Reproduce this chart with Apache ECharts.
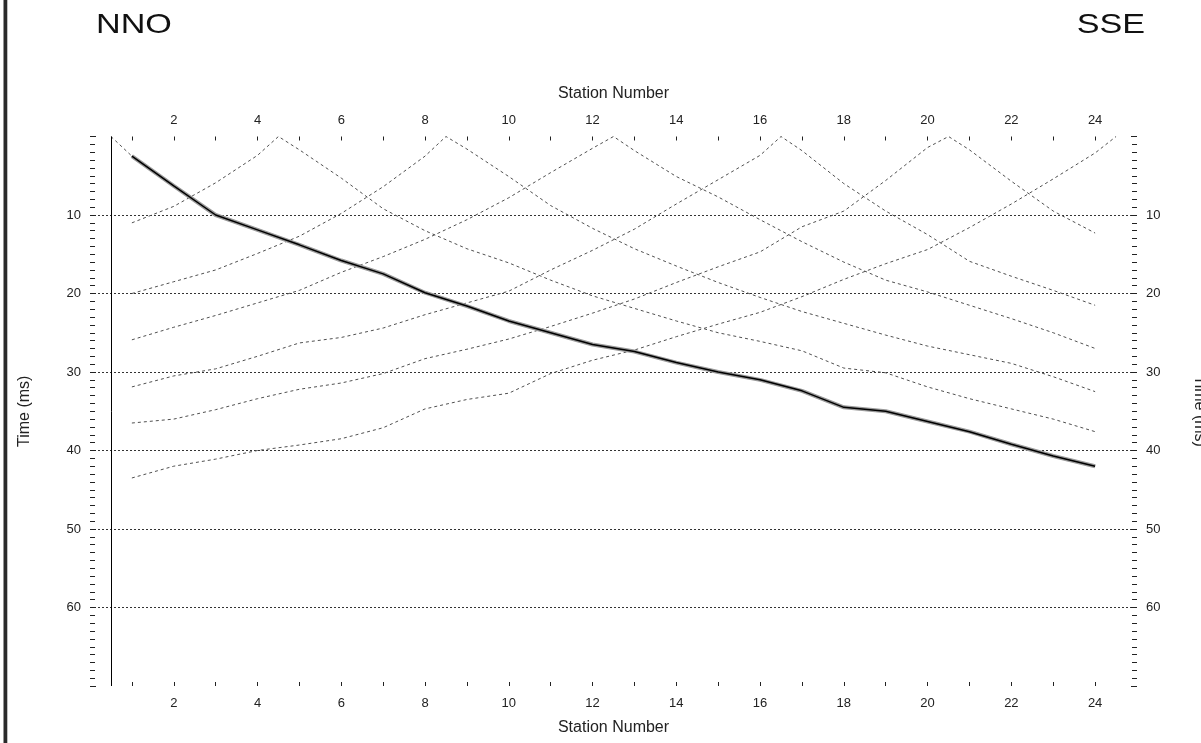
<!DOCTYPE html>
<html><head><meta charset="utf-8">
<script src="https://cdn.jsdelivr.net/npm/echarts@6/dist/echarts.min.js"></script>
<style>html,body{margin:0;padding:0;background:#fff}#c{width:1201px;height:743px}</style>
</head><body><div id="c"></div>
<script>
// ---- data ----
const stations = [1,2,3,4,5,6,7,8,9,10,11,12,13,14,15,16,17,18,19,20,21,22,23,24];
const shotPositions = [0.5, 4.5, 8.5, 12.5, 16.5, 20.5, 24.5];
const shotA = [2.5,6.3,10.0,11.9,13.8,15.8,17.5,19.9,21.6,23.5,25.0,26.5,27.4,28.8,30.0,31.0,32.4,34.5,35.0,36.3,37.6,39.2,40.7,42.0];
const shotB = [11.0,8.9,5.9,2.4,1.7,5.3,9.2,12.0,14.3,16.1,18.3,20.3,21.9,23.5,25.0,26.1,27.3,29.5,30.1,31.9,33.4,34.7,36.0,37.6];
const shotC = [20.0,18.5,17.0,14.9,12.7,9.8,6.4,2.5,1.6,5.1,8.8,11.7,14.3,16.5,18.6,20.5,22.3,23.8,25.3,26.7,27.8,28.9,30.6,32.5];
const shotD = [25.9,24.3,22.8,21.2,19.6,17.3,15.3,13.1,10.6,7.8,4.6,1.5,1.8,5.1,7.7,10.6,13.4,16.0,18.3,19.8,21.5,23.2,25.0,27.0];
const shotE = [31.9,30.5,29.6,28.0,26.3,25.6,24.4,22.7,21.2,19.7,17.0,14.5,11.8,8.6,5.5,2.4,1.8,6.0,9.5,12.5,15.9,17.8,19.6,21.5];
const shotF = [36.5,36.0,34.8,33.4,32.2,31.4,30.2,28.3,27.1,25.8,24.2,22.5,20.7,18.6,16.6,14.7,11.5,9.5,5.6,1.4,1.7,5.7,9.5,12.3];
const shotG = [43.5,42.0,41.1,40.0,39.3,38.5,37.1,34.7,33.5,32.7,30.2,28.5,27.2,25.5,23.9,22.4,20.4,18.2,16.2,14.4,11.6,8.6,5.4,2.1];
const shotTimes = [shotA, shotB, shotC, shotD, shotE, shotF, shotG];
const xTickLabels = [2,4,6,8,10,12,14,16,18,20,22,24];
const yTickLabels = [10,20,30,40,50,60];
const leftTitle = 'NNO', rightTitle = 'SSE';
const axisTitleX = 'Station Number', axisTitleY = 'Time (ms)';

// ---- chart ----
const FONT = '"Liberation Sans", Arial, sans-serif';
function buildCurve(pos, times) {
  const pts = stations.map((s, i) => [s, times[i]]);
  pts.push([pos, 0]);
  pts.sort((a, b) => a[0] - b[0]);
  return pts;
}
const dashedSeries = shotPositions.map((p, k) => ({
  type: 'line', data: buildCurve(p, shotTimes[k]), symbol: 'none', silent: true,
  lineStyle: { color: '#505050', width: 1, type: [3, 3] }, z: 3
}));
const mainPts = stations.map((s, i) => [s, shotA[i]]);

const xAxisBase = {
  type: 'value', min: 0, max: 25, interval: 1,
  name: axisTitleX, nameLocation: 'middle',
  nameTextStyle: { fontSize: 16, color: '#222', fontFamily: FONT },
  axisLine: { show: false, onZero: false },
  axisTick: { show: true, inside: true, length: 4, customValues: stations, lineStyle: { color: '#222' } },
  axisLabel: { show: true, interval: 0, fontSize: 13, color: '#222', fontFamily: FONT, customValues: xTickLabels,
    formatter: v => xTickLabels.includes(v) ? String(v) : '' },
  splitLine: { show: false }
};
const yAxisBase = {
  type: 'value', inverse: true, min: 0, max: 70, interval: 10,
  name: axisTitleY, nameLocation: 'middle',
  nameTextStyle: { fontSize: 16, color: '#222', fontFamily: FONT },
  axisLine: { show: false, onZero: false },
  axisTick: { show: true, inside: true, length: 6, lineStyle: { color: '#222' } },
  minorTick: { show: true, splitNumber: 10, length: 5, lineStyle: { color: '#222' } },
  axisLabel: { margin: 9, fontSize: 13, color: '#222', fontFamily: FONT,
    formatter: v => yTickLabels.includes(v) ? String(v) : '' }
};

const chart = echarts.init(document.getElementById('c'), null, { renderer: 'canvas' });
chart.setOption({
  animation: false,
  backgroundColor: '#fff',
  grid: { left: 90, right: 64, top: 136.5, height: 549.5, outerBoundsMode: 'none', containLabel: false },
  xAxis: [
    Object.assign({}, xAxisBase, { position: 'bottom', nameGap: 34, axisLabel: Object.assign({}, xAxisBase.axisLabel, { margin: 11 }) }),
    Object.assign({}, xAxisBase, { position: 'top', nameGap: 35, axisLabel: Object.assign({}, xAxisBase.axisLabel, { margin: 10 }) })
  ],
  yAxis: [
    Object.assign({}, yAxisBase, { position: 'left', nameGap: 57, nameRotate: 90,
      splitLine: { show: true, showMinLine: false, showMaxLine: false, lineStyle: { color: '#333', width: 1, type: [2, 2] } } }),
    Object.assign({}, yAxisBase, { position: 'right', nameGap: 54, nameRotate: -90, splitLine: { show: false } })
  ],
  graphic: [
    { type: 'rect', shape: { x: 3.5, y: 0, width: 3.8, height: 743 }, style: { fill: '#2a2a2a' }, silent: true },
    { type: 'text', x: 96, y: 25, scaleX: 1.22, style: { text: leftTitle, font: '28px ' + FONT, fill: '#111', align: 'left', verticalAlign: 'middle' } },
    { type: 'text', x: 1145, y: 25, scaleX: 1.22, style: { text: rightTitle, font: '28px ' + FONT, fill: '#111', align: 'right', verticalAlign: 'middle' } }
  ],
  series: dashedSeries.concat([
    { type: 'line', data: mainPts, symbol: 'none', silent: true, lineStyle: { color: '#9a9a9a', width: 4 }, z: 5,
      markLine: { silent: true, symbol: 'none', label: { show: false },
        lineStyle: { color: '#000', width: 1, type: 'solid' }, data: [{ xAxis: shotPositions[0] }] } },
    { type: 'line', data: mainPts, symbol: 'none', silent: true, lineStyle: { color: '#000', width: 1.5 }, z: 6 }
  ])
});
</script></body></html>
